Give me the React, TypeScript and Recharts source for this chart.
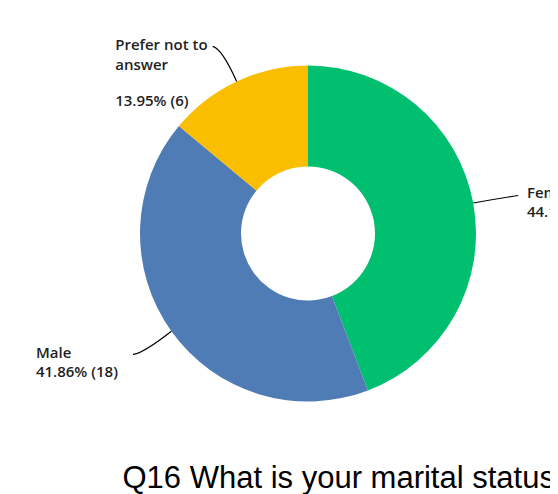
import React from "react";
import { PieChart, Pie, Cell } from "recharts";

const categories = ["Female", "Male", "Prefer not to answer"];
const counts = [19, 18, 6];
const labelLines = [["Female"], ["Male"], ["Prefer not to", "answer"]];
const title = "Q16 What is your marital status";

const colors = ["#00BF6F", "#507CB6", "#F9BE00"];

const data = categories.map((name, i) => ({ name, value: counts[i] }));

// label layout (relative to the slice's outer edge at mid-angle)
const layout = [
  { end: [45, -7.5], ctrl: [22, -4], tx: 53.7, ty: [-5, 14] },
  { end: [-38.4, 23.2], ctrl: [-28, 22], tx: -135.4, ty: [26.5, 45.5] },
  { end: [-24, -35], ctrl: [-15, -33], tx: -121.5, ty: [-31, -11.5, 25] },
];

const RAD = Math.PI / 180;

const renderLabel = (props: any) => {
  const { cx, cy, midAngle, outerRadius, index, value, percent } = props;
  const ex = cx + outerRadius * Math.cos(-midAngle * RAD);
  const ey = cy + outerRadius * Math.sin(-midAngle * RAD);
  const L = layout[index];
  const pctText = `${(percent * 100).toFixed(2)}% (${value})`;
  const all = [...labelLines[index], pctText];
  return (
    <g key={`lbl-${index}`}>
      <path
        d={`M${ex},${ey} Q${ex + L.ctrl[0]},${ey + L.ctrl[1]} ${ex + L.end[0]},${ey + L.end[1]}`}
        stroke="#000"
        strokeWidth={1.2}
        fill="none"
      />
      {all.map((t, k) => (
        <text
          key={k}
          x={ex + L.tx}
          y={ey + L.ty[k]}
          textAnchor="start"
          fill="#1f1f1f"
          fontFamily="'Open Sans', 'Noto Sans', sans-serif"
          fontWeight={600}
          fontSize={15}
        >
          {t}
        </text>
      ))}
    </g>
  );
};

export default function App() {
  return (
    <div style={{ position: "relative", width: 550, height: 486, overflow: "hidden" }}>
      <PieChart width={550} height={486}>
        <Pie
          data={data}
          dataKey="value"
          nameKey="name"
          cx={295}
          cy={220.5}
          innerRadius={67}
          outerRadius={168}
          startAngle={90}
          endAngle={-270}
          stroke="none"
          label={renderLabel}
          labelLine={false}
          isAnimationActive={false}
        >
          {data.map((d, i) => (
            <Cell key={d.name} fill={colors[i]} />
          ))}
        </Pie>
      </PieChart>
      <svg
        width={550}
        height={486}
        style={{ position: "absolute", left: 0, top: 0, pointerEvents: "none" }}
      >
        <text
          x={114.5}
          y={480}
          fontFamily="'Liberation Sans', Arial, sans-serif"
          fontSize={31}
          fill="#000"
        >
          {title}
        </text>
      </svg>
    </div>
  );
}
